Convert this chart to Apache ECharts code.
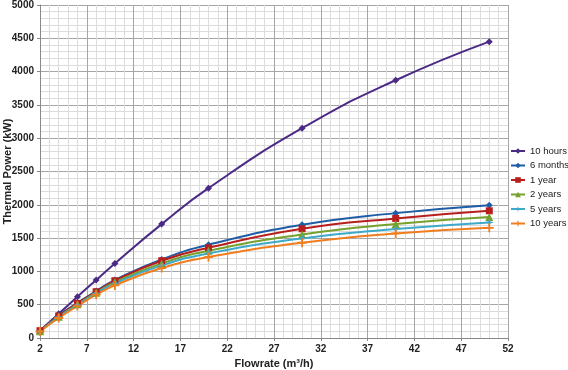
<!DOCTYPE html>
<html style="height:100%;width:100%">
<head>
<meta charset="utf-8">
</head>
<body style="margin:0;height:100%;width:100%;background:#fff">
<div id="chart-panel" style="width:568px;height:370px"></div>
<script src="https://cdn.jsdelivr.net/npm/echarts@6/dist/echarts.min.js"></script>
<script>
// flow rate (m3/h)
var flow = [2, 4, 6, 8, 10, 15, 20, 30, 40, 50];
var names = ['10 hours', '6 months', '1 year', '2 years', '5 years', '10 years'];
var hours10 = [110, 365, 620, 870, 1120, 1710, 2250, 3150, 3870, 4450];
var months6 = [110, 340, 525, 705, 870, 1180, 1400, 1700, 1875, 1995];
var year1 = [110, 330, 520, 695, 860, 1160, 1355, 1640, 1795, 1910];
var years2 = [100, 320, 505, 680, 840, 1120, 1310, 1555, 1710, 1815];
var years5 = [100, 315, 495, 670, 820, 1090, 1270, 1495, 1635, 1735];
var years10 = [100, 300, 480, 650, 790, 1050, 1215, 1430, 1570, 1655];

var colors = ['#4B2A86', '#1F5DA6', '#B81E1E', '#76A12C', '#3FA9C9', '#F07D1E'];
var symbols = ['diamond', 'diamond', 'rect', 'triangle',
  'path://M0,-10L2.5,-2.5L10,0L2.5,2.5L0,10L-2.5,2.5L-10,0L-2.5,-2.5Z',
  'path://M-2,-10H2V-2H10V2H2V10H-2V2H-10V-2H-2Z'];
var sizes = [7, 7, 7, 8, 9, 9];
var values = [hours10, months6, year1, years2, years5, years10];

var chart = echarts.init(document.getElementById('chart-panel'));
var series = values.map(function (v, i) {
  return {
    name: names[i],
    type: 'line',
    smooth: true,
    data: flow.map(function (x, j) { return [x, v[j]]; }),
    symbol: symbols[i],
    symbolSize: sizes[i],
    lineStyle: { color: colors[i], width: 2 },
    itemStyle: { color: colors[i] }
  };
});

var option = {
  animation: false,
  backgroundColor: '#fff',
  grid: { left: 40, right: 60, top: 5, bottom: 32, outerBoundsMode: 'none' },
  legend: {
    orient: 'vertical',
    left: 510,
    top: 146,
    padding: 0,
    itemWidth: 14,
    itemHeight: 7,
    itemGap: 4.5,
    textStyle: { fontSize: 9.5, color: '#222', fontFamily: 'Liberation Sans' },
    data: names
  },
  xAxis: {
    type: 'value',
    min: 2,
    max: 52,
    interval: 5,
    name: 'Flowrate (m³/h)',
    nameLocation: 'middle',
    nameMoveOverlap: false,
    nameGap: 20,
    nameTextStyle: { fontSize: 11, fontWeight: 'bold', color: '#222' },
    axisLine: { lineStyle: { color: '#888' } },
    axisTick: { show: true, length: 3, lineStyle: { color: '#888' } },
    axisLabel: { fontSize: 10, fontWeight: 'bold', color: '#222', margin: 6 },
    splitLine: { show: true, lineStyle: { color: '#a6a6a6', width: 1 } },
    minorTick: { show: false, splitNumber: 5 },
    minorSplitLine: { show: true, lineStyle: { color: '#dcdcdc', width: 1 } }
  },
  yAxis: {
    type: 'value',
    min: 0,
    max: 5000,
    interval: 500,
    name: 'Thermal Power (kW)',
    nameLocation: 'middle',
    nameMoveOverlap: false,
    nameGap: 27,
    nameTextStyle: { fontSize: 11, fontWeight: 'bold', color: '#222' },
    axisLine: { show: true, lineStyle: { color: '#888' } },
    axisTick: { show: true, length: 3, lineStyle: { color: '#888' } },
    axisLabel: {
      fontSize: 10, fontWeight: 'bold', color: '#222', margin: 6,
      formatter: function (v) { return String(v); }
    },
    splitLine: { show: true, lineStyle: { color: '#a6a6a6', width: 1 } },
    minorTick: { show: false, splitNumber: 5 },
    minorSplitLine: { show: true, lineStyle: { color: '#dcdcdc', width: 1 } }
  },
  series: series
};
chart.setOption(option);
</script>
</body>
</html>
